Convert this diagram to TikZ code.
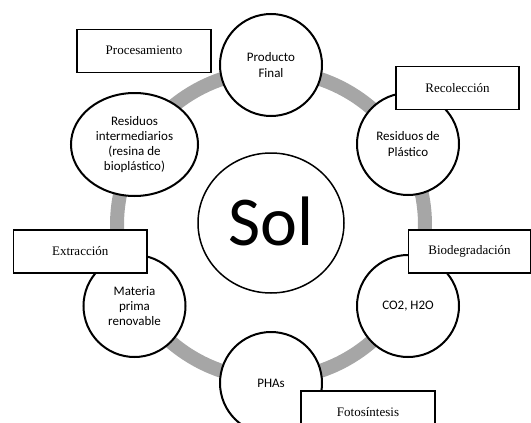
\documentclass[tikz,border=0pt]{standalone}
\usepackage{fontspec}
\setmainfont{Liberation Serif}
\newfontfamily\carlito{Carlito}
\usetikzlibrary{shapes.geometric}
\definecolor{ringgray}{HTML}{A6A6A6}

\begin{document}
\begin{tikzpicture}[x=1pt,y=-1pt,
  stage/.style={circle,draw,line width=2pt,fill=white,minimum size=102pt,
    inner sep=0pt,align=center,font=\carlito\fontsize{13}{15.2}\selectfont},
  process/.style={rectangle,draw,line width=1.2pt,fill=white,minimum width=134pt,
    minimum height=43pt,inner sep=0pt,font=\fontsize{13}{15}\selectfont}]
\useasboundingbox (0,0) rectangle (531,423);
\clip (0,0) rectangle (531,423);

% gray cycle ring
\draw[line width=14pt,ringgray] (271,225) circle (154pt);

% centre
\node[ellipse,draw,line width=1.5pt,fill=white,minimum width=146pt,minimum height=140pt,
  inner sep=0pt,text depth=4pt,font=\carlito\fontsize{70}{70}\selectfont] (sol) at (271,223) {Sol};

% stages of the cycle
\node[stage] (final) at (271,65) {Producto\\Final};
\node[stage] (plastico) at (408,144) {Residuos de\\Plástico};
\node[stage] (co2) at (408,306) {CO2, H2O};
\node[stage] (phas) at (271,383) {PHAs};
\node[stage] (materia) at (134.5,306) {Materia\\prima\\renovable};
\node[stage,ellipse,minimum width=127pt,minimum height=103pt] (resina) at (134.5,144.5)
  {Residuos\\intermediarios\\(resina de\\bioplástico)};

% process labels
\node[process] (procesamiento) at (144,50.75) {Procesamiento};
\node[process,minimum width=123pt] (recoleccion) at (457.5,88) {Recolección};
\node[process,minimum width=122pt] (biodeg) at (469.5,251.5) {Biodegradación};
\node[process,minimum width=133.5pt] (extraccion) at (80.25,251.5) {Extracción};
\node[process] (fotosintesis) at (368,412.5) {Fotosíntesis};
\end{tikzpicture}
\end{document}
